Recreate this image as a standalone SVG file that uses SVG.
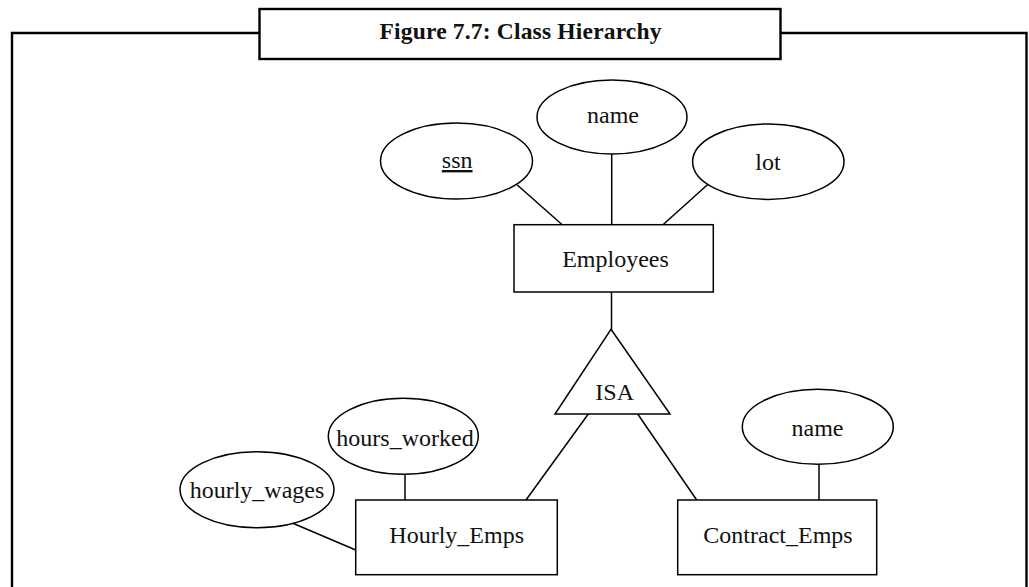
<svg xmlns="http://www.w3.org/2000/svg" width="1029" height="587" viewBox="0 0 1029 587">
<style>
.frame{fill:none;stroke:#000;stroke-width:2.4}
.shape{fill:#fff;stroke:#000;stroke-width:1.5}
.conn{stroke:#000;stroke-width:1.5;fill:none}
.lbl{font-family:"Liberation Serif","Times New Roman",serif;font-size:24px;fill:#111;text-anchor:middle}
.title{font-family:"Liberation Serif","Times New Roman",serif;font-size:23.5px;font-weight:bold;fill:#111;text-anchor:middle}
</style>
<rect width="1029" height="587" fill="#fff"/>
<g id="frame">
<path class="frame" d="M12,590 V33 H259.5 M780.5,33 H1026.5 V590"/>
<rect class="frame" x="259.5" y="9" width="521" height="50"/>
<text class="title" x="520.5" y="39.3" textLength="282" lengthAdjust="spacing">Figure 7.7: Class Hierarchy</text>
</g>
<g id="connectors">
<line class="conn" x1="517.3" y1="185" x2="562.5" y2="225"/>
<line class="conn" x1="611.7" y1="154" x2="611.7" y2="225"/>
<line class="conn" x1="708.3" y1="184" x2="662.7" y2="225"/>
<line class="conn" x1="611.5" y1="292" x2="611.5" y2="329.5"/>
<line class="conn" x1="588.3" y1="414" x2="526" y2="500"/>
<line class="conn" x1="637.7" y1="414" x2="696.7" y2="500"/>
<line class="conn" x1="405" y1="474" x2="405" y2="500"/>
<line class="conn" x1="291.7" y1="522.7" x2="355.7" y2="550"/>
<line class="conn" x1="819" y1="464" x2="819" y2="500"/>
</g>
<g id="ssn">
<ellipse class="shape" cx="456.5" cy="161" rx="76" ry="38"/>
<text class="lbl" x="457.2" y="168" text-decoration="underline">ssn</text>
</g>
<g id="name">
<ellipse class="shape" cx="612" cy="117" rx="75" ry="37"/>
<text class="lbl" x="613" y="123.3">name</text>
</g>
<g id="lot">
<ellipse class="shape" cx="768.3" cy="161.7" rx="75.7" ry="37.7"/>
<text class="lbl" x="768" y="170">lot</text>
</g>
<g id="employees">
<rect class="shape" x="514" y="224.7" width="199.3" height="67.3"/>
<text class="lbl" x="615.5" y="266.7">Employees</text>
</g>
<g id="isa">
<polygon class="shape" points="611,329.3 670,414 555,414"/>
<text class="lbl" x="614.7" y="400">ISA</text>
</g>
<g id="hours_worked">
<ellipse class="shape" cx="403.3" cy="436.3" rx="75" ry="38"/>
<text class="lbl" x="405" y="445.7">hours_worked</text>
</g>
<g id="hourly_wages">
<ellipse class="shape" cx="257" cy="489.7" rx="77" ry="38"/>
<text class="lbl" x="257" y="498.3">hourly_wages</text>
</g>
<g id="hourly_emps">
<rect class="shape" x="355.7" y="500" width="201.6" height="74.7"/>
<text class="lbl" x="456.7" y="542.7">Hourly_Emps</text>
</g>
<g id="contract_name">
<ellipse class="shape" cx="817.8" cy="426.8" rx="75.5" ry="37.5"/>
<text class="lbl" x="817.5" y="435.7">name</text>
</g>
<g id="contract_emps">
<rect class="shape" x="677.7" y="500" width="199" height="74.7"/>
<text class="lbl" x="778" y="542.7">Contract_Emps</text>
</g>
</svg>
